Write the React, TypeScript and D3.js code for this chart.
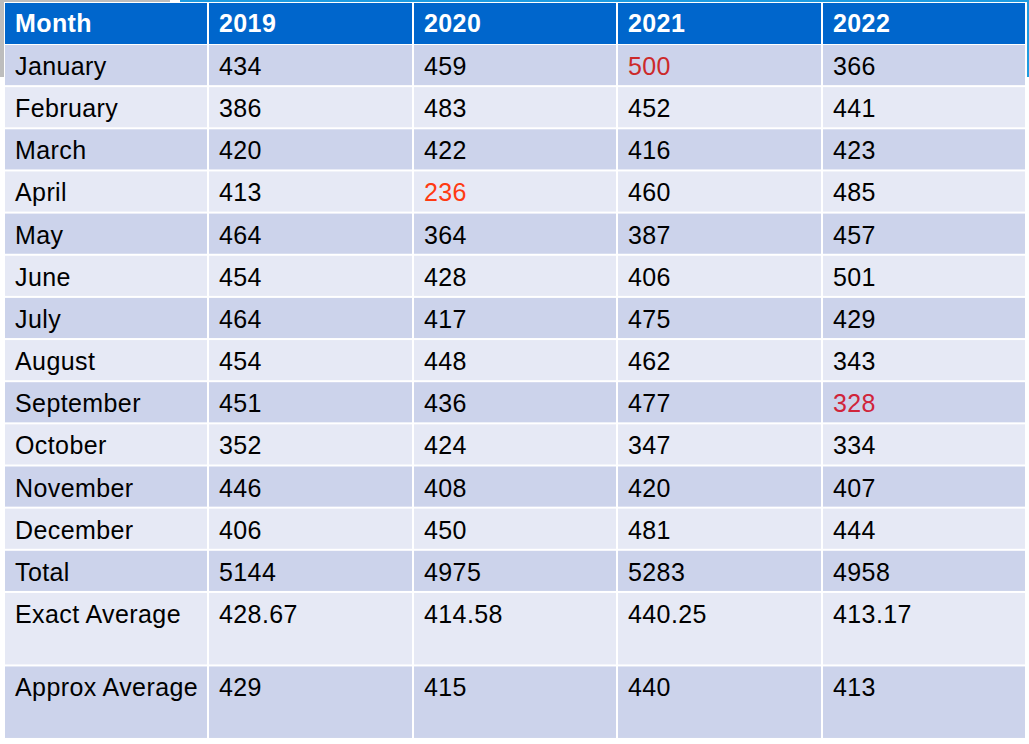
import React from "react";
import * as d3 from "d3";

const columns = ["Month", "2019", "2020", "2021", "2022"];
const months = ["January","February","March","April","May","June","July","August","September","October","November","December"];
const v2019 = [434,386,420,413,464,454,464,454,451,352,446,406];
const v2020 = [459,483,422,236,364,428,417,448,436,424,408,450];
const v2021 = [500,452,416,460,387,406,475,462,477,347,420,481];
const v2022 = [366,441,423,485,457,501,429,343,328,334,407,444];
const totals = ["5144","4975","5283","4958"];
const exactAvg = ["428.67","414.58","440.25","413.17"];
const approxAvg = ["429","415","440","413"];
// highlighted cells: [rowIndex, colIndex, color]
const highlights: [number, number, string][] = [
  [0, 3, "#CC2A2A"],
  [3, 2, "#FF3A12"],
  [8, 4, "#D0243A"],
];

export default function App() {
  const W = 1029, H = 744;
  const left = 5, right = 1026, top = 3;
  const colEdges = [left, 209, 414, 618, 823, right + 1];
  const headerH = 41;
  const rowStep = 42.15;
  const bigStep = 73.5;

  const rows: string[][] = months.map((m, i) => [m, String(v2019[i]), String(v2020[i]), String(v2021[i]), String(v2022[i])]);
  rows.push(["Total", ...totals]);
  rows.push(["Exact Average", ...exactAvg]);
  rows.push(["Approx Average", ...approxAvg]);

  const steps = rows.map((_, i) => (i < 13 ? rowStep : bigStep));
  const tops: number[] = [];
  let y = top + headerH + 1;
  steps.forEach((s) => { tops.push(y); y += s; });

  const x = d3.scaleOrdinal<number, number>().domain(d3.range(5)).range(colEdges.slice(0, 5));
  const colW = (c: number) => colEdges[c + 1] - colEdges[c] - 2;

  const font = "'Liberation Sans', Arial, sans-serif";
  const fs = 25;
  const ls = 0.4;
  const colorFor = (r: number, c: number) => {
    const h = highlights.find((e) => e[0] === r && e[1] === c);
    return h ? h[2] : "#000";
  };

  return (
    <svg width={W} height={H} style={{ position: "absolute", left: 0, top: 0, display: "block" }}>
      <rect x={0} y={0} width={W} height={H} fill="#fff" />
      <rect x={0} y={0} width={170} height={2} fill="#BDBDBD" />
      <rect x={0} y={0} width={4} height={77} fill="#BDBDBD" />
      <rect x={180} y={0} width={W - 180} height={2} fill="#1E9BE0" />
      <rect x={1027} y={0} width={2} height={77} fill="#1E9BE0" />
      {columns.map((c, ci) => (
        <g key={c}>
          <rect x={x(ci)} y={top} width={colW(ci)} height={headerH} fill="#0066CC" />
          <text x={x(ci) + 10} y={top + 29} fill="#fff" fontWeight="bold" fontSize={fs} letterSpacing={ls} fontFamily={font}>{c}</text>
        </g>
      ))}
      {rows.map((r, ri) => (
        <g key={ri}>
          {r.map((v, ci) => (
            <g key={ci}>
              <rect x={x(ci)} y={tops[ri]} width={colW(ci)} height={steps[ri] - 2} fill={ri % 2 === 0 ? "#CCD3EB" : "#E6E9F5"} />
              <text x={x(ci) + 10} y={tops[ri] + 30} fill={colorFor(ri, ci)} fontSize={fs} letterSpacing={ls} fontFamily={font}>{v}</text>
            </g>
          ))}
        </g>
      ))}
    </svg>
  );
}
